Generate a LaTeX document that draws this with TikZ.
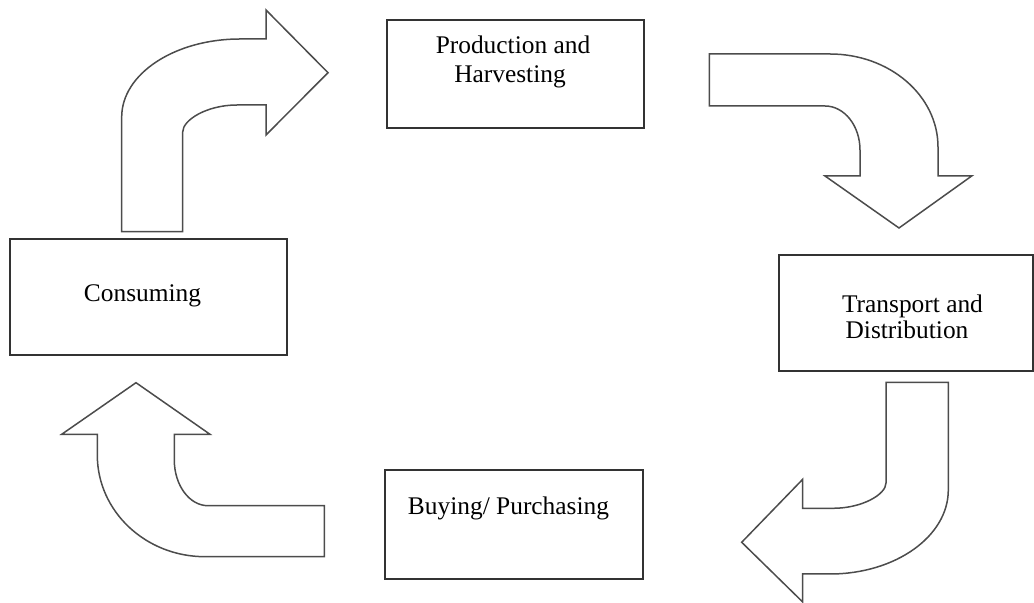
\documentclass[tikz,border=0pt]{standalone}
\usepackage{fontspec}
\setmainfont{Liberation Serif}
\begin{document}
\begin{tikzpicture}[x=0.5pt,y=-0.5pt,
  box/.style={draw=black!80,line width=1pt,fill=white,inner sep=0pt},
  flow/.style={draw=black!70,line width=0.75pt,fill=white,line join=miter},
  lbl/.style={font=\fontsize{12.7}{15}\selectfont,anchor=base,inner sep=0pt,text=black}]
\useasboundingbox (0,0) rectangle (1034,603);
% boxes (sizes in pt = half the pixel size)
\node[box,minimum width=128.5pt,minimum height=54pt] (prod) at (515.5,74.5) {};
\node[box,minimum width=127pt,minimum height=58pt] (trans) at (906,313) {};
\node[box,minimum width=129pt,minimum height=54.5pt] (buy) at (514,524.5) {};
\node[box,minimum width=138.5pt,minimum height=58pt] (cons) at (148.5,297) {};
% labels
\node[lbl] (prodA) at (513,54) {Production and};
\node[lbl] (prodB) at (510,83) {Harvesting};
\node[lbl] (transA) at (912.5,313) {Transport and};
\node[lbl] (transB) at (907,339) {Distribution};
\node[lbl] (buyA) at (508.5,515) {Buying/ Purchasing};
\node[lbl] (consA) at (142.5,302) {Consuming};
% arrow: consuming -> production
\draw[flow] (121.7,231.7) -- (121.7,117)
  .. controls (121.7,73.9) and (174.7,39) .. (240,39)
  -- (266,39) -- (266,10) -- (328,72.7) -- (266,135) -- (266,105) -- (237,105)
  .. controls (207,105) and (182.7,119.9) .. (182.7,132)
  -- (182.7,231.7) -- cycle;
% arrow: production -> transport
\draw[flow] (709.3,54) -- (830,54)
  .. controls (889.6,54) and (938,95.6) .. (938,147)
  -- (938,176) -- (971.7,176) -- (899,228) -- (825,176) -- (860,176) -- (860,150)
  .. controls (860,125.7) and (844.3,106) .. (825,106)
  -- (709.3,106) -- cycle;
% arrow: transport -> buying
\draw[flow] (886,382.3) -- (948.3,382.3) -- (948.3,490)
  .. controls (948.3,536.4) and (895.3,574) .. (830,574)
  -- (802.7,574) -- (802.7,602) -- (741.7,542.3) -- (802.7,479.3) -- (802.7,508.3) -- (833,508.3)
  .. controls (862.3,508.3) and (886,494.3) .. (886,483)
  -- cycle;
% arrow: buying -> consuming
\draw[flow] (324.3,505.7) -- (208,505.7)
  .. controls (189.4,505.7) and (174.3,485.2) .. (174.3,460)
  -- (174.3,434.3) -- (210,434.3) -- (136,382.7) -- (61.7,434.3) -- (97.3,434.3) -- (97.3,455)
  .. controls (97.3,511.2) and (145.5,556.7) .. (205,556.7)
  -- (324.3,556.7) -- cycle;
\end{tikzpicture}
\end{document}
